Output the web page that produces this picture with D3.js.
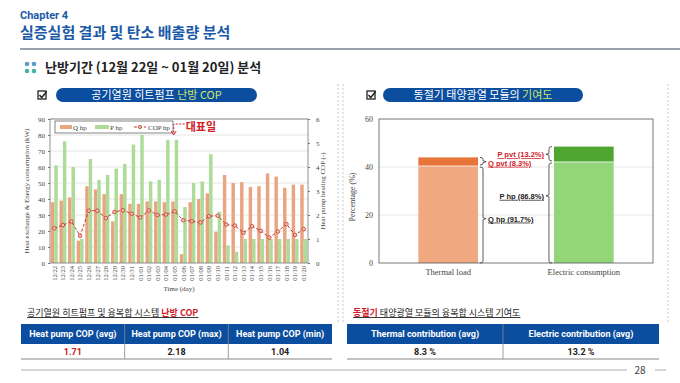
<!DOCTYPE html>
<html>
<head>
<meta charset="utf-8">
<script src="https://cdn.jsdelivr.net/npm/d3@7"></script>
<style>
body { margin: 0; background: #fff; }
svg { display: block; font-family: "Noto Sans CJK KR", "Noto Sans", sans-serif; }
.serif { font-family: "Liberation Serif", "Times New Roman", serif; }
.axis path, .axis line { stroke: #777; }
.axis text { font-family: "Liberation Serif", serif; fill: #444; }
</style>
</head>
<body>
<svg id="slide" width="680" height="383"></svg>
<script>
// daily data, 12/22 ~ 01/20
var days = ["12/22","12/23","12/24","12/25","12/26","12/27","12/28","12/29","12/30","12/31",
            "01/01","01/02","01/03","01/04","01/05","01/06","01/07","01/08","01/09","01/10",
            "01/11","01/12","01/13","01/14","01/15","01/16","01/17","01/18","01/19","01/20"];
var qhp = [38,39,41,14,48,46,43,26,43,37, 37,38.5,38.5,38,38.5,5.5,38,40,43.5,19.5, 55,50,50.5,47.5,48,56,54,47,49,49];
var php = [61,76,60,15,65,52,55,59,62,74, 80,51,52,77,77,35,50,51,68,32, 11,7,15,15,15,15,15,15,15,15];
var cop = [1.45,1.58,1.73,1.13,2.18,2.18,1.87,2.13,2.2,2.05, 1.9,2.19,2.0,2.02,2.15,1.78,1.74,1.69,1.95,1.97,
           1.6,1.56,1.26,1.53,1.34,1.06,1.31,1.62,1.17,1.41];

// contribution chart (percentage)
var loadCats = ["Thermal load", "Electric consumption"];
var hpShare = [40.4, 42.1];
var pvtShare = [3.6, 6.4];
var hpLabels = ["Q hp (91.7%)", "P hp (86.8%)"];
var pvtLabels = ["Q pvt (8.3%)", "P pvt (13.2%)"];

// tables
var copHeads = ["Heat pump COP (avg)", "Heat pump COP (max)", "Heat pump COP (min)"];
var copVals = ["1.71", "2.18", "1.04"];
var contribHeads = ["Thermal contribution (avg)", "Electric contribution (avg)"];
var contribVals = ["8.3 %", "13.2 %"];

var svg = d3.select("#slide");
var blue = "#0b4d9e";

// ---- slide header
svg.append("text").attr("x", 20).attr("y", 19).attr("fill", "#1a5aa8")
  .attr("font-size", 11).attr("font-weight", "bold").attr("font-family", "Roboto, sans-serif").text("Chapter 4");
svg.append("text").attr("x", 20).attr("y", 38).attr("fill", "#1a5aa8")
  .attr("font-size", 15).attr("font-weight", "bold").text("실증실험 결과 및 탄소 배출량 분석");
svg.append("line").attr("x1", 20).attr("x2", 680).attr("y1", 49).attr("y2", 49)
  .attr("stroke", "#9aa3ad").attr("stroke-width", 2);

[[27,64,"#5a9fcc"],[34,64,"#5a9fcc"],[27,71,"#45b39b"],[34,71,"#45b39b"]].forEach(function(d){
  svg.append("circle").attr("cx", d[0]).attr("cy", d[1]).attr("r", 2.3).attr("fill", d[2]);
});
svg.append("text").attr("x", 45).attr("y", 72).attr("font-size", 13).attr("font-weight", "bold")
  .attr("fill", "#222").text("난방기간 (12월 22일 ~ 01월 20일) 분석");

// dotted panel separators
[338, 343, 668].forEach(function(x){
  svg.append("line").attr("x1", x).attr("x2", x).attr("y1", 84).attr("y2", 322)
    .attr("stroke", "#c8c8c8").attr("stroke-dasharray", "2,2");
});

function checkbox(x, y) {
  svg.append("rect").attr("x", x).attr("y", y).attr("width", 8).attr("height", 8)
    .attr("fill", "none").attr("stroke", "#222").attr("stroke-width", 1.3);
  svg.append("path").attr("d", "M" + (x+1.5) + "," + (y+4) + " l2.2,2.5 l5,-6")
    .attr("fill", "none").attr("stroke", "#222").attr("stroke-width", 1.5);
}
function pill(x, w, y, t1, t2) {
  svg.append("rect").attr("x", x).attr("y", y).attr("width", w).attr("height", 14).attr("rx", 7)
    .attr("fill", blue);
  var t = svg.append("text").attr("x", x + w / 2).attr("y", y + 11).attr("text-anchor", "middle")
    .attr("font-size", 11).attr("fill", "#fff");
  t.append("tspan").text(t1);
  t.append("tspan").attr("fill", "#cfe86a").text(t2);
}
checkbox(38, 91);
pill(56, 201, 88, "공기열원 히트펌프 ", "난방 COP");
checkbox(367, 91);
pill(383, 200, 88, "동절기 태양광열 모듈의 ", "기여도");

// ---- left chart: daily Q hp / P hp bars + COP line
var x = d3.scaleBand().domain(days).range([50, 308]).paddingInner(0.2).paddingOuter(0.1);
var xs = d3.scaleBand().domain(["Q", "P"]).range([0, x.bandwidth()]);
var y = d3.scaleLinear().domain([0, 90]).range([263, 119]);
var y2 = d3.scaleLinear().domain([0, 6]).range([263, 119]);

var lc = svg.append("g");
lc.selectAll(".grid").data(y.ticks(9).slice(1)).join("line")
  .attr("x1", 50).attr("x2", 308).attr("y1", y).attr("y2", y)
  .attr("stroke", "#dedede").attr("stroke-width", 0.8);

lc.selectAll(".q").data(qhp).join("rect")
  .attr("x", function(d, i){ return x(days[i]) + xs("Q"); })
  .attr("y", function(d){ return y(d); })
  .attr("width", xs.bandwidth()).attr("height", function(d){ return y(0) - y(d); })
  .attr("fill", "#e9a581");
lc.selectAll(".p").data(php).join("rect")
  .attr("x", function(d, i){ return x(days[i]) + xs("P"); })
  .attr("y", function(d){ return y(d); })
  .attr("width", xs.bandwidth()).attr("height", function(d){ return y(0) - y(d); })
  .attr("fill", "#acdc98");

var copLine = d3.line()
  .x(function(d, i){ return x(days[i]) + x.bandwidth() / 2; })
  .y(function(d){ return y2(d); });
lc.append("path").datum(cop).attr("d", copLine).attr("fill", "none")
  .attr("stroke", "#c0392b").attr("stroke-width", 1).attr("stroke-dasharray", "3,2");
lc.selectAll(".cp").data(cop).join("circle")
  .attr("cx", function(d, i){ return x(days[i]) + x.bandwidth() / 2; })
  .attr("cy", function(d){ return y2(d); })
  .attr("r", 1.8).attr("fill", "#f3c0b5").attr("stroke", "#c0392b").attr("stroke-width", 0.8);

lc.append("rect").attr("x", 50).attr("y", 119).attr("width", 258).attr("height", 144)
  .attr("fill", "none").attr("stroke", "#777").attr("stroke-width", 0.8);

lc.append("g").attr("class", "axis").attr("transform", "translate(50,0)")
  .call(d3.axisLeft(y).ticks(9).tickSize(2)).call(function(g){ g.select(".domain").remove(); })
  .selectAll("text").attr("font-size", 7);
lc.append("g").attr("class", "axis").attr("transform", "translate(308,0)")
  .call(d3.axisRight(y2).ticks(6).tickSize(2)).call(function(g){ g.select(".domain").remove(); })
  .selectAll("text").attr("font-size", 7).attr("dx", 3);
lc.append("g").attr("class", "axis").attr("transform", "translate(0,263)")
  .call(d3.axisBottom(x).tickSize(0)).call(function(g){ g.select(".domain").remove(); })
  .selectAll("text").attr("font-size", 6.5).attr("text-anchor", "end")
  .attr("transform", "rotate(-90)").attr("x", -3).attr("y", 0).attr("dy", "0.35em");

lc.append("text").attr("class", "serif").attr("x", 179).attr("y", 291).attr("text-anchor", "middle")
  .attr("font-size", 7).attr("fill", "#444").text("Time (day)");
lc.append("text").attr("class", "serif").attr("transform", "translate(29,191) rotate(-90)")
  .attr("text-anchor", "middle").attr("font-size", 7).attr("fill", "#444")
  .text("Heat exchange & Energy consumption (kW)");
lc.append("text").attr("class", "serif").attr("transform", "translate(325,191) rotate(-90)")
  .attr("text-anchor", "middle").attr("font-size", 7).attr("fill", "#444")
  .text("Heat pump heating COP (-)");

// legend
var lg = lc.append("g").attr("class", "serif").attr("font-size", 7).attr("fill", "#444");
lg.append("rect").attr("x", 55).attr("y", 121).attr("width", 118).attr("height", 12)
  .attr("fill", "#fff").attr("stroke", "#666").attr("stroke-width", 0.8);
lg.append("rect").attr("x", 60).attr("y", 125).attr("width", 12).attr("height", 4).attr("fill", "#e9a581");
lg.append("text").attr("x", 73).attr("y", 130).text("Q hp");
lg.append("rect").attr("x", 95).attr("y", 125).attr("width", 14).attr("height", 4).attr("fill", "#acdc98");
lg.append("text").attr("x", 110).attr("y", 130).text("P hp");
lg.append("line").attr("x1", 134).attr("x2", 146).attr("y1", 127).attr("y2", 127)
  .attr("stroke", "#c0392b").attr("stroke-dasharray", "3,2");
lg.append("circle").attr("cx", 140).attr("cy", 127).attr("r", 1.6)
  .attr("fill", "#f3c0b5").attr("stroke", "#c0392b").attr("stroke-width", 0.8);
lg.append("text").attr("x", 148).attr("y", 130).text("COP hp");

// representative day marker
var rx = x("01/05") + x.bandwidth() / 2 - 1;
lc.append("path").attr("d", "M" + (rx + 11) + ",124 L" + rx + ",124 L" + rx + ",133")
  .attr("fill", "none").attr("stroke", "#d0202a").attr("stroke-dasharray", "2,1.5");
lc.append("path").attr("d", "M" + (rx - 2.5) + ",131 L" + rx + ",135 L" + (rx + 2.5) + ",131")
  .attr("fill", "none").attr("stroke", "#d0202a").attr("stroke-width", 1);
lc.append("text").attr("x", rx + 12).attr("y", 131).attr("font-size", 11).attr("font-weight", "bold")
  .attr("fill", "#d0202a").text("대표일");

// ---- right chart: contribution stacked bars
var xb = d3.scaleBand().domain(loadCats).range([379, 653]).paddingInner(0.56).paddingOuter(0.29);
var yb = d3.scaleLinear().domain([0, 60]).range([263, 119]);
var rc = svg.append("g");
rc.selectAll(".g").data([20, 40]).join("line")
  .attr("x1", 379).attr("x2", 653).attr("y1", yb).attr("y2", yb)
  .attr("stroke", "#e2e2e2").attr("stroke-width", 0.8);

var hpCol = ["#f0a880", "#92d679"], pvtCol = ["#e7753a", "#4ea52f"];
rc.selectAll(".hp").data(hpShare).join("rect")
  .attr("x", function(d, i){ return xb(loadCats[i]); })
  .attr("y", function(d){ return yb(d); })
  .attr("width", xb.bandwidth()).attr("height", function(d){ return yb(0) - yb(d); })
  .attr("fill", function(d, i){ return hpCol[i]; });
rc.selectAll(".pvt").data(pvtShare).join("rect")
  .attr("x", function(d, i){ return xb(loadCats[i]); })
  .attr("y", function(d, i){ return yb(hpShare[i] + d); })
  .attr("width", xb.bandwidth()).attr("height", function(d){ return yb(0) - yb(d); })
  .attr("fill", function(d, i){ return pvtCol[i]; });
rc.selectAll(".sep").data(hpShare).join("line")
  .attr("x1", function(d, i){ return xb(loadCats[i]); })
  .attr("x2", function(d, i){ return xb(loadCats[i]) + xb.bandwidth(); })
  .attr("y1", yb).attr("y2", yb).attr("stroke", "#fff").attr("stroke-width", 0.8);

rc.append("rect").attr("x", 379).attr("y", 119).attr("width", 274).attr("height", 144)
  .attr("fill", "none").attr("stroke", "#555").attr("stroke-width", 0.8);
rc.append("g").attr("class", "axis").attr("transform", "translate(379,0)")
  .call(d3.axisLeft(yb).tickValues([0, 20, 40, 60]).tickSize(0).tickPadding(6))
  .call(function(g){ g.select(".domain").remove(); })
  .selectAll("text").attr("font-size", 8);
rc.append("g").attr("class", "axis").attr("transform", "translate(0,263)")
  .call(d3.axisBottom(xb).tickSize(0).tickPadding(6))
  .call(function(g){ g.select(".domain").remove(); })
  .selectAll("text").attr("font-size", 8.5).attr("fill", "#555");
rc.append("text").attr("class", "serif").attr("transform", "translate(355,197) rotate(-90)")
  .attr("text-anchor", "middle").attr("font-size", 8).attr("fill", "#444").text("Percentage (%)");

// braces: side = 1 to the right of the bar, -1 to the left
function brace(x0, yTop, yBot, yTick, side) {
  var xv = x0 + 3 * side;
  var p = "M" + x0 + "," + yTop + " Q" + xv + "," + yTop + " " + xv + "," + (yTop + 2) +
    " L" + xv + "," + (yTick - 1) + " L" + (xv + 3 * side) + "," + yTick + " L" + xv + "," + (yTick + 1) +
    " L" + xv + "," + (yBot - 2) + " Q" + xv + "," + yBot + " " + x0 + "," + yBot;
  rc.append("path").attr("d", p).attr("fill", "none").attr("stroke", "#333").attr("stroke-width", 0.8);
}
function note(xp, yp, txt, col, anchor) {
  rc.append("text").attr("x", xp).attr("y", yp + 3).attr("text-anchor", anchor)
    .attr("font-size", 7.5).attr("font-weight", "bold").attr("fill", col)
    .attr("text-decoration", "underline").attr("font-family", "Liberation Sans, Arial, sans-serif")
    .text(txt);
}
var tRight = xb(loadCats[0]) + xb.bandwidth() + 2;
var q0 = yb(hpShare[0]), q1 = yb(hpShare[0] + pvtShare[0]);
brace(tRight, q0 + 1, yb(0), yb(18.5), 1);
brace(tRight, q1, q0 - 1, (q0 + q1) / 2, 1);
note(tRight + 8, yb(18.5), hpLabels[0], "#222", "start");
note(tRight + 8, (q0 + q1) / 2 + 1, pvtLabels[0], "#d0202a", "start");

var eLeft = xb(loadCats[1]) - 2;
var p0 = yb(hpShare[1]), p1 = yb(hpShare[1] + pvtShare[1]);
brace(eLeft, p0 + 1, yb(0), yb(28), -1);
brace(eLeft, p1, p0 - 1, (p0 + p1) / 2, -1);
note(eLeft - 8, yb(28), hpLabels[1], "#222", "end");
note(eLeft - 8, (p0 + p1) / 2, pvtLabels[1], "#d0202a", "end");

// ---- tables
function table(x0, w, heads, vals, redFirst) {
  var cw = w / heads.length;
  svg.append("rect").attr("x", x0).attr("y", 324).attr("width", w).attr("height", 20).attr("fill", blue);
  heads.forEach(function(h, i){
    svg.append("text").attr("x", x0 + cw * i + cw / 2).attr("y", 337).attr("text-anchor", "middle")
      .attr("font-size", 9).attr("font-weight", "bold").attr("font-family", "Roboto, sans-serif")
      .attr("fill", "#fff").text(h);
    svg.append("text").attr("x", x0 + cw * i + cw / 2).attr("y", 355).attr("text-anchor", "middle")
      .attr("font-size", 9).attr("font-weight", "bold").attr("font-family", "Roboto, sans-serif")
      .attr("fill", redFirst && i === 0 ? "#c8202a" : "#222").text(vals[i]);
    if (i > 0) svg.append("line").attr("x1", x0 + cw * i).attr("x2", x0 + cw * i)
      .attr("y1", 324).attr("y2", 359).attr("stroke", "#888").attr("stroke-width", 0.8);
  });
  svg.append("line").attr("x1", x0).attr("x2", x0 + w).attr("y1", 359).attr("y2", 359)
    .attr("stroke", "#888").attr("stroke-width", 1.2);
}
var t1 = svg.append("text").attr("x", 27).attr("y", 316).attr("font-size", 9)
  .attr("text-decoration", "underline").attr("fill", "#222");
t1.append("tspan").text("공기열원 히트펌프 및 융복합 시스템 ");
t1.append("tspan").attr("fill", "#d0202a").attr("font-weight", "bold").text("난방 COP");
table(21, 311, copHeads, copVals, true);

var t2 = svg.append("text").attr("x", 353).attr("y", 316).attr("font-size", 9)
  .attr("text-decoration", "underline").attr("fill", "#222");
t2.append("tspan").attr("fill", "#d0202a").attr("font-weight", "bold").text("동절기");
t2.append("tspan").text(" 태양광열 모듈의 융복합 시스템 기여도");
table(347, 312, contribHeads, contribVals, false);

// footer
svg.append("line").attr("x1", 21).attr("x2", 627).attr("y1", 370).attr("y2", 370)
  .attr("stroke", "#aaa").attr("stroke-width", 1);
svg.append("line").attr("x1", 655).attr("x2", 666).attr("y1", 370).attr("y2", 370)
  .attr("stroke", "#aaa").attr("stroke-width", 1);
svg.append("text").attr("x", 640).attr("y", 374).attr("text-anchor", "middle")
  .attr("font-size", 10).attr("fill", "#444").text("28");
</script>
</body>
</html>
